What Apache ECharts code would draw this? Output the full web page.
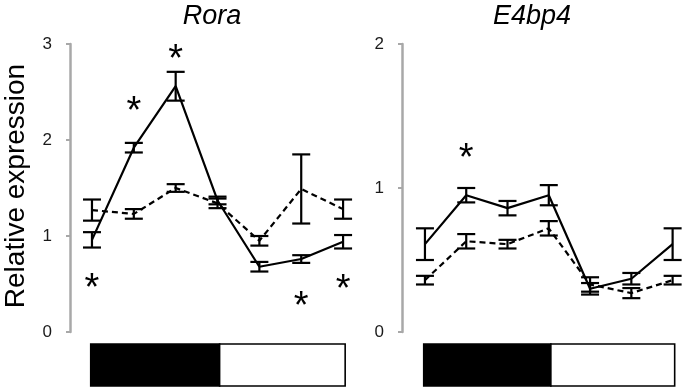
<!DOCTYPE html>
<html><head><meta charset="utf-8">
<script src="https://cdn.jsdelivr.net/npm/echarts@6/dist/echarts.min.js"></script>
<style>html,body{margin:0;padding:0;background:#fff}#c{width:685px;height:392px}</style>
</head><body><div id="c"></div>
<script>
// time points (index along the x axis)
const timePoints = [0, 1, 2, 3, 4, 5, 6];
// Rora
const roraSolid = [0.96, 1.92, 2.56, 1.37, 0.68, 0.76, 0.94];
const roraSolidErr = [0.08, 0.05, 0.15, 0.04, 0.05, 0.04, 0.07];
const roraDashed = [1.27, 1.23, 1.50, 1.34, 0.95, 1.49, 1.28];
const roraDashedErr = [0.11, 0.05, 0.04, 0.05, 0.05, 0.36, 0.10];
const roraStars = [[0, 0.49], [1, 2.33], [2, 2.87], [5, 0.30], [6, 0.48]];
// E4bp4
const e4Solid = [0.61, 0.95, 0.86, 0.95, 0.30, 0.37, 0.61];
const e4SolidErr = [0.11, 0.05, 0.05, 0.07, 0.04, 0.04, 0.11];
const e4Dashed = [0.36, 0.63, 0.61, 0.72, 0.33, 0.27, 0.36];
const e4DashedErr = [0.03, 0.05, 0.03, 0.05, 0.05, 0.035, 0.03];
const e4Stars = [[1, 1.23]];
// y tick labels
const roraTicks = ['0', '1', '2', '3'];
const e4Ticks = ['0', '1', '2'];
// dark / light phase edges along x
const phaseEdges = [-0.03, 3.05, 6.05];

const FONT = 'Liberation Sans, Arial, Helvetica, sans-serif';

function pairs(v) { return timePoints.map((t, i) => [t, v[i]]); }
function errData(v, e) { return timePoints.map((t, i) => [t, v[i] - e[i], v[i] + e[i]]); }

function errSeries(v, e, idx) {
  return {
    type: 'custom', xAxisIndex: idx, yAxisIndex: idx, z: 3,
    data: errData(v, e),
    renderItem: function (params, api) {
      const lo = api.coord([api.value(0), api.value(1)]);
      const hi = api.coord([api.value(0), api.value(2)]);
      const w = 9;
      const st = { stroke: '#000', lineWidth: 2.2 };
      return {
        type: 'group', children: [
          { type: 'line', shape: { x1: lo[0], y1: lo[1], x2: hi[0], y2: hi[1] }, style: st },
          { type: 'line', shape: { x1: lo[0] - w, y1: lo[1], x2: lo[0] + w, y2: lo[1] }, style: st },
          { type: 'line', shape: { x1: hi[0] - w, y1: hi[1], x2: hi[0] + w, y2: hi[1] }, style: st }
        ]
      };
    }
  };
}
function lineSeries(v, idx, dashed) {
  return {
    type: 'line', xAxisIndex: idx, yAxisIndex: idx, data: pairs(v), showSymbol: false, z: 2,
    lineStyle: { color: '#000', width: 2.2, type: dashed ? [6, 4] : 'solid' }, silent: true
  };
}
function starSeries(d, idx) {
  return {
    type: 'custom', xAxisIndex: idx, yAxisIndex: idx, data: d, z: 4,
    renderItem: function (params, api) {
      const p = api.coord([api.value(0), api.value(1)]);
      return { type: 'text', x: p[0], y: p[1] + 4.5, style: { text: '*', fontSize: 38, fontFamily: FONT, fill: '#000', align: 'center', verticalAlign: 'middle' } };
    }
  };
}
function phaseSeries(idx) {
  const d = [[phaseEdges[0], phaseEdges[1], 1], [phaseEdges[1], phaseEdges[2], 0]];
  return {
    type: 'custom', xAxisIndex: idx, yAxisIndex: idx, data: d,
    renderItem: function (params, api) {
      const a = api.coord([api.value(0), 1]);
      const b = api.coord([api.value(1), 0]);
      return { type: 'rect', shape: { x: a[0], y: a[1], width: b[0] - a[0], height: b[1] - a[1] },
        style: { fill: api.value(2) ? '#000' : '#fff', stroke: '#000', lineWidth: 1.6 } };
    }
  };
}
function xAx(idx, min, max) {
  return { type: 'value', gridIndex: idx, min: min, max: max, show: false };
}
function yAx(idx, max, ticks) {
  return {
    type: 'value', gridIndex: idx, min: 0, max: max, interval: 1,
    axisLine: { show: true, onZero: false, lineStyle: { color: '#a8a8a8', width: 2.5 } },
    axisTick: { show: true, length: 4, lineStyle: { color: '#a8a8a8', width: 2 } },
    splitLine: { show: false },
    axisLabel: { margin: 18, color: '#1a1a1a', fontSize: 17, fontFamily: FONT, formatter: v => ticks[Math.round(v)] }
  };
}
function yBar(idx) { return { type: 'value', gridIndex: idx, min: 0, max: 1, show: false }; }

const chart = echarts.init(document.getElementById('c'), null, { renderer: 'canvas' });
chart.setOption({
  animation: false,
  grid: [
    { left: 70, top: 44, width: 294, height: 288 },
    { left: 402, top: 44, width: 283, height: 288 },
    { left: 70, top: 344, width: 294, height: 42 },
    { left: 402, top: 344, width: 283, height: 42 }
  ],
  xAxis: [xAx(0, -0.525, 6.5), xAx(1, -0.556, 6.3), xAx(2, -0.525, 6.5), xAx(3, -0.556, 6.3)],
  yAxis: [yAx(0, 3, roraTicks), yAx(1, 2, e4Ticks), yBar(2), yBar(3)],
  graphic: [
    { type: 'text', x: 212, y: 16, style: { text: 'Rora', fontSize: 27, fontStyle: 'italic', fontFamily: FONT, fill: '#000', align: 'center', verticalAlign: 'middle' } },
    { type: 'text', x: 532, y: 16, style: { text: 'E4bp4', fontSize: 27, fontStyle: 'italic', fontFamily: FONT, fill: '#000', align: 'center', verticalAlign: 'middle' } },
    { type: 'text', x: 16, y: 186, rotation: Math.PI / 2, style: { text: 'Relative expression', fontSize: 28, fontFamily: FONT, fill: '#000', align: 'center', verticalAlign: 'middle' } }
  ],
  series: [
    lineSeries(roraDashed, 0, true), lineSeries(roraSolid, 0, false),
    errSeries(roraDashed, roraDashedErr, 0), errSeries(roraSolid, roraSolidErr, 0),
    starSeries(roraStars, 0),
    lineSeries(e4Dashed, 1, true), lineSeries(e4Solid, 1, false),
    errSeries(e4Dashed, e4DashedErr, 1), errSeries(e4Solid, e4SolidErr, 1),
    starSeries(e4Stars, 1),
    phaseSeries(2), phaseSeries(3)
  ]
});
</script></body></html>
